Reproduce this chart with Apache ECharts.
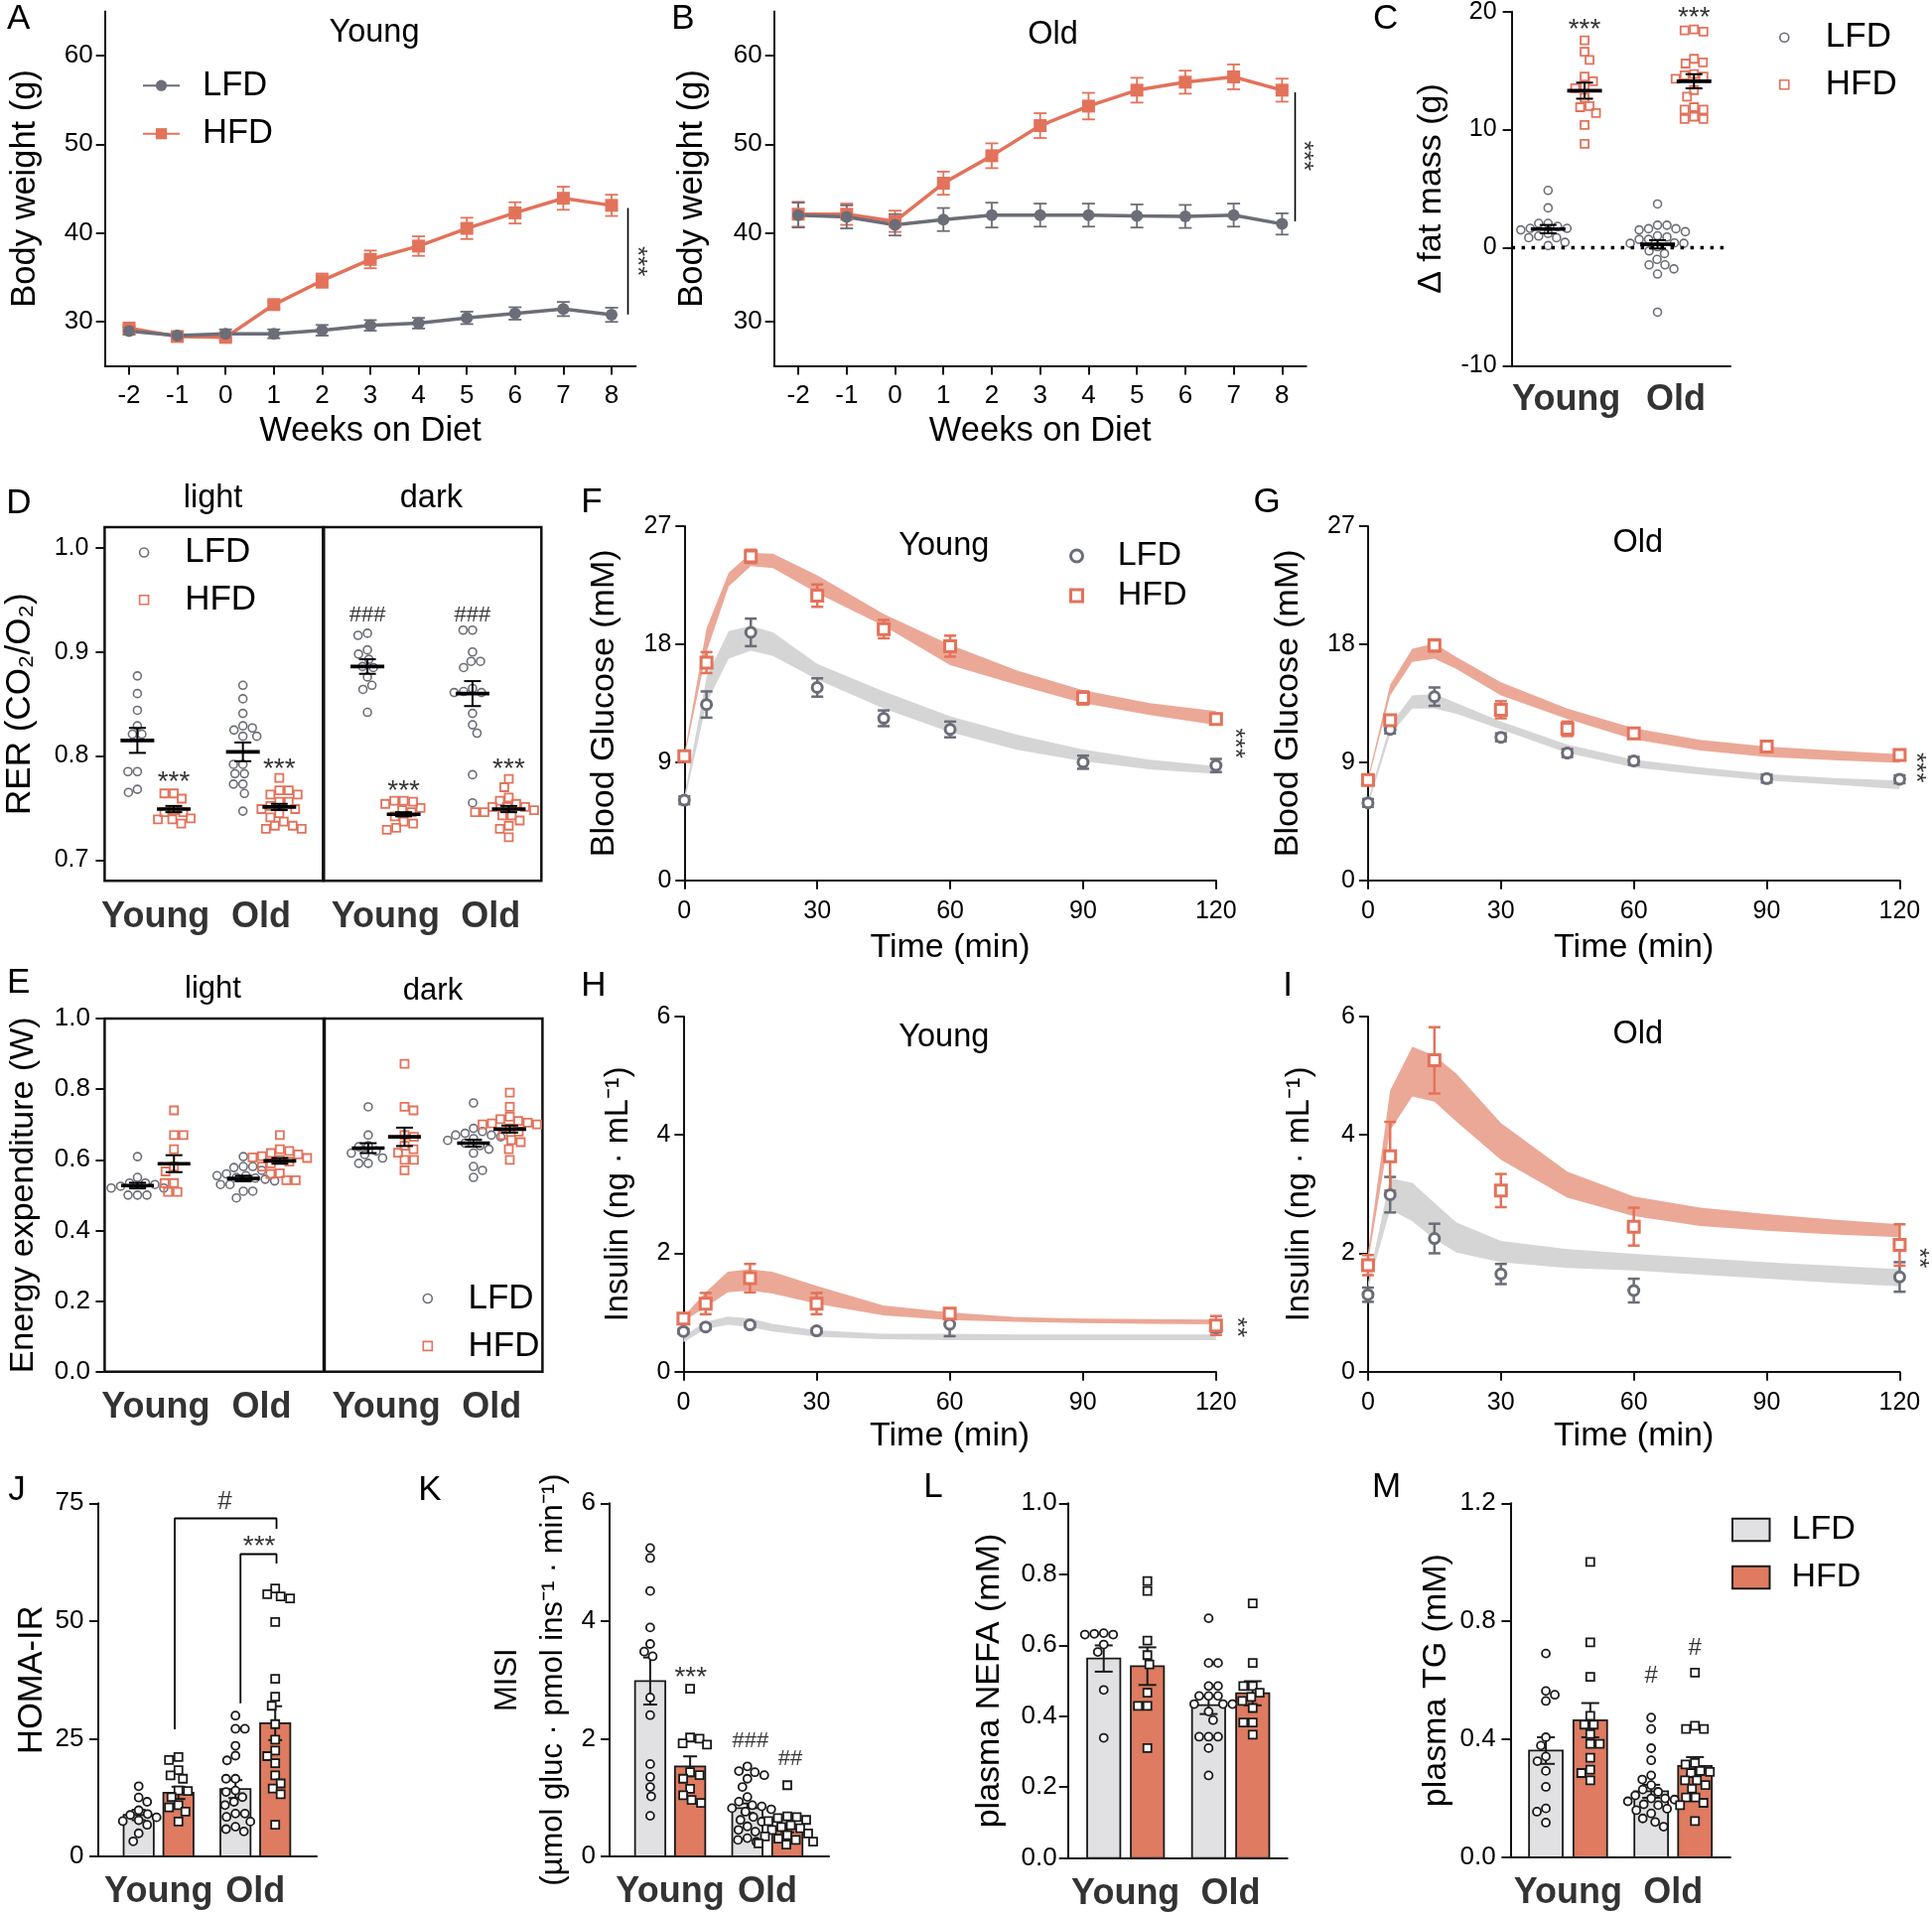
<!DOCTYPE html>
<html>
<head>
<meta charset="utf-8">
<title>Figure</title>
<script src="https://cdn.jsdelivr.net/npm/echarts@6.0.0/dist/echarts.min.js"></script>
<style>
html,body{margin:0;padding:0;background:#ffffff;}
#chart{width:1946px;height:1926px;}
</style>
</head>
<body>
<div id="chart"></div>
<script>
// ================= DATA =================
// A / B : body weight
const weeks = [-2,-1,0,1,2,3,4,5,6,7,8];
const bodyWeightTicks = [30,40,50,60];
const A_LFD = [28.9,28.4,28.6,28.6,29.0,29.55,29.8,30.4,30.9,31.4,30.75];
const A_LFD_sem = [0.4,0.4,0.5,0.5,0.6,0.6,0.6,0.7,0.7,0.8,0.8];
const A_HFD = [29.25,28.3,28.2,31.9,34.6,37.0,38.5,40.5,42.25,43.9,43.1];
const A_HFD_sem = [0.3,0.35,0.35,0.4,0.8,1.0,1.1,1.2,1.2,1.3,1.2];
const B_LFD = [42.0,41.8,40.9,41.5,42.0,42.0,42.0,41.9,41.85,42.0,41.0];
const B_LFD_sem = [1.4,1.3,1.2,1.3,1.4,1.3,1.3,1.3,1.3,1.3,1.2];
const B_HFD = [42.1,42.1,41.3,45.6,48.7,52.1,54.3,56.1,57.0,57.6,56.1];
const B_HFD_sem = [1.4,1.2,1.2,1.3,1.4,1.4,1.5,1.4,1.3,1.4,1.3];

// group order everywhere: [LFD Young, HFD Young, LFD Old, HFD Old]
const ageGroups = ['Young','Old'];

// C : delta fat mass
const C_LFD_young = [4.85,3.37,2.05,2.05,1.8,1.63,1.63,1.5,1.2,0.98,0.84,0.84,0.45,0.17];
const C_HFD_young = [17.56,16.6,15.9,14.5,14.1,13.7,13.5,12.7,12.0,11.9,11.4,10.4,8.8];
const C_LFD_old = [3.7,1.9,1.9,1.6,1.6,1.5,1.35,1.0,0.9,0.7,0.7,0.4,0.36,0.36,0.08,-0.28,-0.5,-1.0,-1.46,-1.46,-1.8,-2.24,-5.47];
const C_HFD_old = [18.4,18.5,18.3,16.0,15.7,15.6,14.7,14.6,14.5,14.3,13.35,12.8,11.9,11.7,11.7,11.1,10.9,10.9];
const C_mean = [1.57,13.3,0.28,14.1];
const C_sem = [0.35,0.68,0.35,0.6];

// D : RER
const RER_ticks = [0.7,0.8,0.9,1.0];
const D_L_LFD_young = [0.877,0.860,0.844,0.829,0.821,0.821,0.785,0.785,0.765,0.768];
const D_L_HFD_young = [0.764,0.764,0.759,0.748,0.746,0.746,0.740,0.739,0.739,0.735];
const D_L_LFD_old = [0.868,0.855,0.841,0.829,0.827,0.825,0.819,0.819,0.792,0.792,0.783,0.783,0.773,0.773,0.764,0.747];
const D_L_HFD_old = [0.779,0.767,0.767,0.763,0.763,0.756,0.756,0.752,0.749,0.749,0.745,0.741,0.737,0.733,0.733,0.730,0.730];
const D_D_LFD_young = [0.918,0.916,0.902,0.898,0.893,0.886,0.885,0.876,0.868,0.864,0.842];
const D_D_HFD_young = [0.757,0.757,0.756,0.754,0.750,0.748,0.746,0.742,0.737,0.735,0.731,0.729];
const D_D_LFD_old = [0.921,0.921,0.900,0.891,0.891,0.885,0.865,0.862,0.861,0.861,0.841,0.830,0.822,0.782,0.755];
const D_D_HFD_old = [0.778,0.770,0.760,0.757,0.754,0.751,0.751,0.751,0.748,0.746,0.746,0.743,0.743,0.738,0.733,0.730,0.722];
const D_light_mean = [0.815,0.749,0.804,0.751];
const D_light_sem = [0.012,0.003,0.009,0.003];
const D_dark_mean = [0.886,0.744,0.860,0.749];
const D_dark_sem = [0.007,0.002,0.012,0.003];

// E : energy expenditure
const E_L_LFD_young = [0.609,0.550,0.534,0.534,0.530,0.525,0.520,0.520,0.500,0.500,0.500];
const E_L_HFD_young = [0.740,0.670,0.670,0.630,0.581,0.567,0.534,0.534,0.509,0.509];
const E_L_LFD_old = [0.609,0.581,0.581,0.578,0.570,0.560,0.555,0.555,0.550,0.548,0.545,0.540,0.530,0.530,0.511,0.511,0.492];
const E_L_HFD_old = [0.670,0.630,0.625,0.619,0.615,0.610,0.607,0.605,0.600,0.595,0.590,0.581,0.562,0.560,0.542,0.542];
const E_D_LFD_young = [0.750,0.670,0.640,0.637,0.625,0.619,0.615,0.605,0.590,0.590];
const E_D_HFD_young = [0.872,0.750,0.740,0.670,0.665,0.640,0.630,0.620,0.600,0.600,0.570];
const E_D_LFD_old = [0.761,0.689,0.680,0.675,0.670,0.670,0.665,0.660,0.655,0.647,0.640,0.630,0.619,0.581,0.570,0.550];
const E_D_HFD_old = [0.790,0.750,0.722,0.715,0.710,0.705,0.703,0.700,0.700,0.689,0.680,0.670,0.656,0.650,0.630,0.600];
const E_light_mean = [0.527,0.589,0.547,0.597];
const E_light_sem = [0.008,0.024,0.008,0.008];
const E_dark_mean = [0.633,0.665,0.647,0.687];
const E_dark_sem = [0.014,0.026,0.010,0.010];

// F / G : glucose tolerance
const gttTimes = [0,5,15,30,45,60,90,120];
const F_LFD = [6.1,13.4,18.9,14.7,12.35,11.5,9.0,8.75];
const F_LFD_sem = [0.3,1.0,1.05,0.7,0.6,0.6,0.5,0.5];
const F_HFD = [9.45,16.6,24.7,21.7,19.15,17.85,13.9,12.3];
const F_HFD_sem = [0.3,0.8,0.5,0.85,0.7,0.8,0.5,0.35];
const G_LFD = [5.9,11.5,14.0,10.9,9.7,9.1,7.75,7.7];
const G_LFD_sem = [0.3,0.3,0.7,0.3,0.3,0.3,0.3,0.3];
const G_HFD = [7.65,12.2,17.9,13.0,11.55,11.2,10.2,9.55];
const G_HFD_sem = [0.3,0.4,0.45,0.65,0.55,0.3,0.35,0.3];
// model fit bands (lower / upper)
const bandTimes = [0,5,10,15,20,30,45,60,75,90,105,120];
const F_HFD_lo = [9.3,17.4,22.4,23.95,23.8,21.9,19.4,16.4,14.9,13.5,12.6,11.85];
const F_HFD_hi = [9.6,19.2,23.45,24.95,24.9,23.25,20.3,17.95,16.0,14.5,13.5,12.9];
const F_LFD_lo = [5.9,13.5,16.9,17.5,17.1,15.3,13.1,11.3,9.95,9.08,8.45,8.12];
const F_LFD_hi = [6.4,15.5,19.0,19.4,18.9,16.5,14.4,12.5,11.1,9.96,9.2,8.7];
const G_HFD_lo = [7.5,14.1,16.65,16.9,16.1,14.1,12.3,10.75,9.9,9.4,9.15,8.95];
const G_HFD_hi = [7.8,14.9,17.65,18.05,17.0,15.1,13.1,11.6,10.7,10.2,9.9,9.6];
const G_LFD_lo = [5.7,11.1,13.1,13.1,12.7,11.5,9.7,8.6,8.05,7.6,7.3,6.95];
const G_LFD_hi = [6.1,11.85,14.1,14.2,13.5,12.1,10.35,9.2,8.6,8.1,7.8,7.6];

// H / I : insulin
const insTimes = [0,5,15,30,60,120];
const H_LFD = [0.68,0.755,0.79,0.69,0.80,0.745];
const H_LFD_sem = [0.04,0.04,0.04,0.04,0.2,0.08];
const H_HFD = [0.895,1.15,1.58,1.15,0.98,0.78];
const H_HFD_sem = [0.06,0.18,0.24,0.18,0.06,0.16];
const I_LFD = [1.30,2.99,2.25,1.65,1.37,1.60];
const I_LFD_sem = [0.12,0.3,0.25,0.17,0.2,0.25];
const I_HFD = [1.8,3.64,5.26,3.06,2.45,2.14];
const I_HFD_sem = [0.17,0.58,0.56,0.28,0.32,0.35];
const H_HFD_lo = [0.85,1.09,1.34,1.37,1.32,1.15,0.95,0.87,0.84,0.82,0.81,0.80];
const H_HFD_hi = [0.93,1.34,1.69,1.73,1.69,1.45,1.12,1.0,0.92,0.895,0.89,0.88];
const H_LFD_lo = [0.5,0.72,0.79,0.755,0.68,0.59,0.55,0.53,0.53,0.53,0.53,0.53];
const H_LFD_hi = [0.6,0.84,0.93,0.9,0.81,0.70,0.64,0.64,0.63,0.63,0.63,0.63];
const I_HFD_lo = [1.85,4.08,4.65,4.56,4.22,3.58,2.94,2.63,2.46,2.38,2.32,2.27];
const I_HFD_hi = [2.0,4.75,5.49,5.34,5.03,4.2,3.38,2.96,2.77,2.66,2.57,2.49];
const I_LFD_lo = [1.4,2.74,2.54,2.24,2.01,1.85,1.75,1.71,1.64,1.57,1.5,1.44];
const I_LFD_hi = [1.5,3.27,3.19,2.85,2.52,2.21,2.07,1.99,1.92,1.85,1.79,1.73];

// J : HOMA-IR
const J_LFD_young = [14.9,12.5,11.6,9.8,9.0,8.8,8.3,7.7,7.5,6.7,4.9,3.2];
const J_HFD_young = [21.1,20.5,18.3,17.2,16.5,14.0,13.9,12.6,10.9,10.4,9.5,7.4];
const J_LFD_old = [29.9,27.1,27.1,23.5,21.4,20.4,16.5,16.5,14.0,13.7,12.6,11.6,10.9,9.1,9.1,8.4,7.4,6.3,5.3,5.8];
const J_HFD_old = [56.9,55.7,55.2,54.8,49.8,37.7,33.9,32.0,28.1,24.8,22.5,21.3,19.8,17.2,15.5,14.4,13.2,6.7];
const J_mean = [8.8,13.5,14.3,28.3];
const J_sem = [1.1,1.3,1.9,3.6];
// K : MISI
const K_LFD_young = [5.24,5.07,4.51,3.89,3.61,3.48,3.4,2.7,2.4,1.57,1.35,1.18,1.02,0.69];
const K_HFD_young = [2.85,2.02,2.0,1.92,1.9,1.43,1.38,1.32,1.15,1.04,0.96,0.91];
const K_LFD_old = [1.53,1.45,1.43,1.38,1.32,1.18,1.01,0.93,0.87,0.85,0.82,0.80,0.76,0.67,0.62,0.59,0.51,0.45,0.42,0.31,0.28,0.25];
const K_HFD_old = [1.21,0.68,0.67,0.65,0.62,0.60,0.53,0.50,0.48,0.45,0.39,0.36,0.34,0.30,0.28,0.25,0.22,0.20];
const K_mean = [2.98,1.53,0.82,0.47];
const K_sem = [0.40,0.17,0.08,0.06];
// L : plasma NEFA
const L_LFD_young = [0.630,0.632,0.634,0.630,0.602,0.581,0.474,0.339];
const L_HFD_young = [0.781,0.753,0.613,0.572,0.546,0.466,0.429,0.429,0.31];
const L_LFD_old = [0.676,0.55,0.55,0.485,0.485,0.457,0.457,0.457,0.434,0.434,0.434,0.413,0.389,0.342,0.342,0.342,0.31,0.233];
const L_HFD_old = [0.718,0.55,0.485,0.485,0.466,0.454,0.443,0.423,0.382,0.382,0.348];
const L_mean = [0.5625,0.541,0.431,0.4646];
const L_sem = [0.037,0.053,0.025,0.034];
// M : plasma TG
const M_LFD_young = [0.691,0.564,0.551,0.530,0.407,0.379,0.342,0.326,0.293,0.239,0.166,0.155,0.118];
const M_HFD_young = [1.001,0.729,0.612,0.48,0.45,0.45,0.418,0.385,0.385,0.338,0.297,0.286,0.261];
const M_LFD_old = [0.474,0.435,0.370,0.329,0.278,0.264,0.245,0.230,0.222,0.210,0.200,0.200,0.196,0.190,0.180,0.177,0.165,0.160,0.149,0.132,0.120,0.104];
const M_HFD_old = [0.626,0.446,0.435,0.435,0.320,0.315,0.293,0.290,0.286,0.261,0.261,0.245,0.233,0.203,0.203,0.185,0.177,0.123];
const M_mean = [0.362,0.465,0.224,0.31];
const M_sem = [0.045,0.058,0.022,0.03];

// ================= STYLE / LAYOUT =================
const FF = "'Liberation Sans', Arial, Helvetica, sans-serif";
const GRAY = '#6b6d78', CORAL = '#e3725a';
const BAND_L = '#d5d5d5', BAND_H = '#eba897';
const BAR_L = '#e1e1e3', BAR_H = '#de7b60';
const INK = '#111111';
const CAT_FS = 36, CAT_DY = 36.5;

const LAYOUT = {
  A:{left:105.7, top:11.4, width:534.6, height:357},
  B:{left:779.7, top:11.4, width:536, height:357},
  C:{left:1522.6, top:11.7, width:220.4, height:356.6},
  DL:{left:105.4, top:531, width:219.9, height:356.3},
  DD:{left:326.3, top:531, width:219, height:356.3},
  F:{left:689.3, top:530, width:535.5, height:356.7},
  G:{left:1377.9, top:530, width:535.5, height:356.7},
  EL:{left:105.4, top:1026, width:220.6, height:355.7},
  ED:{left:327, top:1026, width:219.4, height:355.7},
  H:{left:688.4, top:1024, width:536.4, height:357.7},
  I:{left:1377.9, top:1024, width:535.5, height:357.7},
  J:{left:99, top:1514.3, width:220, height:355.7},
  K:{left:614, top:1514.3, width:221, height:355.7},
  L:{left:1075.7, top:1514.3, width:221, height:357.4},
  M:{left:1521.4, top:1514.3, width:221.5, height:356.7}
};
// horizontal slots (axis units) for the 4 groups
const DOT_X = [1,2,4,5];
const DL_X = [0.9,1.9,3.8,4.8];
const DD_X = [1.2,2.2,4.1,5.1];
const JK_X = [0.185,0.367,0.628,0.81];
const L_X = [0.163,0.362,0.641,0.842];
const M_X = [0.161,0.363,0.64,0.839];

const grids = [], xAxes = [], yAxes = [], series = [], legends = [], graphics = [];

function valAxis(o){
  const ax = {type:'value', min:o.min, max:o.max,
    axisLine:{show:o.line!==false, onZero:false, lineStyle:{color:INK, width:2}},
    axisTick:{show:o.ticks!==false, inside:false, length:9, lineStyle:{color:INK, width:2}},
    axisLabel:{show:o.labels!==false, color:'#000', fontSize:o.fs||26, fontFamily:FF, margin:o.margin==null?12:o.margin},
    splitLine:{show:false}, nameMoveOverlap:false};
  if (o.interval!=null) ax.interval = o.interval;
  if (o.custom){ ax.axisTick.customValues = o.custom; ax.axisLabel.customValues = o.custom; }
  if (o.fmt) ax.axisLabel.formatter = o.fmt;
  if (o.name){
    ax.name = o.name; ax.nameLocation = 'middle'; ax.nameGap = o.nameGap;
    if (o.rot) ax.nameRotate = 90;
    ax.nameTextStyle = {color:'#000', fontSize:o.nameFs||34, fontFamily:FF};
    if (o.nameLH) ax.nameTextStyle.lineHeight = o.nameLH;
  }
  return ax;
}
function panel(key, xa, ya, extra){
  const gi = grids.length;
  grids.push(Object.assign({outerBoundsMode:'none', containLabel:false}, LAYOUT[key], extra||{}));
  xa.gridIndex = gi; ya.gridIndex = gi;
  xAxes.push(xa); yAxes.push(ya);
  return gi;
}
const fmt1 = v => (+v).toFixed(1);

// beeswarm (deterministic) offsets in pixel space
function swarm(vals, cx, kx, ky, d){
  const order = vals.map((v,i)=>i).sort((a,b)=>vals[b]-vals[a]);
  const placed = [], out = [];
  order.forEach(i=>{
    const py = vals[i]*ky;
    const sg = placed.length % 2 ? -1 : 1;
    let off = 0;
    for (let k=0; k<400; k++){
      const cands = k===0 ? [0] : [sg*k*0.5, -sg*k*0.5];
      let ok = null;
      for (const c of cands){
        if (placed.every(p => (p[0]-c)*(p[0]-c) + (p[1]-py)*(p[1]-py) >= d*d)) { ok = c; break; }
      }
      if (ok !== null){ off = ok; break; }
    }
    placed.push([off, py]);
    out.push([cx + off/kx, vals[i]]);
  });
  return out;
}
function swarmGroups(key, xr, yr, groups, xs, d){
  const g = LAYOUT[key];
  const kx = g.width/(xr[1]-xr[0]), ky = g.height/(yr[1]-yr[0]);
  return groups.map((vals,i)=>swarm(vals, xs[i], kx, ky, d));
}

function ptsSeries(name, gi, pts, symbol, size, fill, stroke, bw, z){
  return {type:'scatter', name, xAxisIndex:gi, yAxisIndex:gi, silent:true, clip:false, z:z||4,
    symbol, symbolSize:size, data:pts,
    itemStyle:{color:fill, borderColor:stroke, borderWidth:bw, opacity:1}};
}
function lineSeries(name, gi, xs, ys, color, symbol, size){
  return {type:'line', name, xAxisIndex:gi, yAxisIndex:gi, silent:true, z:4,
    data: xs.map((x,i)=>[x, ys[i]]), symbol, symbolSize:size, showSymbol:true,
    lineStyle:{color, width:3.5}, itemStyle:{color, opacity:1}};
}
function errSeries(gi, xs, m, s, color, cap, w){
  return {type:'custom', xAxisIndex:gi, yAxisIndex:gi, silent:true, clip:false, z:3,
    data: xs.map((x,i)=>[x, m[i], s[i]]), encode:{x:0, y:1},
    renderItem:(p, api)=>{
      const x = api.value(0), mm = api.value(1), ss = api.value(2);
      const t = api.coord([x, mm+ss]), b = api.coord([x, mm-ss]);
      const st = {stroke:color, lineWidth:w};
      return {type:'group', children:[
        {type:'line', shape:{x1:t[0], y1:t[1], x2:b[0], y2:b[1]}, style:st},
        {type:'line', shape:{x1:t[0]-cap/2, y1:t[1], x2:t[0]+cap/2, y2:t[1]}, style:st},
        {type:'line', shape:{x1:b[0]-cap/2, y1:b[1], x2:b[0]+cap/2, y2:b[1]}, style:st}]};
    }};
}
function meanSemSeries(gi, xs, m, s, lineW, capW){
  return {type:'custom', xAxisIndex:gi, yAxisIndex:gi, silent:true, clip:false, z:6,
    data: xs.map((x,i)=>[x, m[i], s[i]]), encode:{x:0, y:1},
    renderItem:(p, api)=>{
      const x = api.value(0), mm = api.value(1), ss = api.value(2);
      const c = api.coord([x, mm]), t = api.coord([x, mm+ss]), b = api.coord([x, mm-ss]);
      const st = {stroke:'#000', lineWidth:2};
      return {type:'group', children:[
        {type:'line', shape:{x1:t[0], y1:t[1], x2:b[0], y2:b[1]}, style:st},
        {type:'line', shape:{x1:t[0]-capW/2, y1:t[1], x2:t[0]+capW/2, y2:t[1]}, style:st},
        {type:'line', shape:{x1:b[0]-capW/2, y1:b[1], x2:b[0]+capW/2, y2:b[1]}, style:st},
        {type:'line', shape:{x1:c[0]-lineW/2, y1:c[1], x2:c[0]+lineW/2, y2:c[1]}, style:{stroke:'#000', lineWidth:3.6}}]};
    }};
}
function barSeries(name, gi, xs, m, s, fill, bw, cap){
  return {type:'custom', name, xAxisIndex:gi, yAxisIndex:gi, silent:true, clip:false, z:2,
    itemStyle:{color:fill, borderColor:'#1a1a1a', borderWidth:1.8},
    data: xs.map((x,i)=>[x, m[i], s[i]]), encode:{x:0, y:1},
    renderItem:(p, api)=>{
      const x = api.value(0), mm = api.value(1), ss = api.value(2);
      const a = api.coord([x-bw/2, 0]), b = api.coord([x+bw/2, mm]);
      const t = api.coord([x, mm+ss]), d = api.coord([x, mm-ss]);
      const ls = {stroke:'#1a1a1a', lineWidth:2};
      return {type:'group', children:[
        {type:'rect', shape:{x:a[0], y:b[1], width:b[0]-a[0], height:a[1]-b[1]}, style:{fill:fill, stroke:'#1a1a1a', lineWidth:1.8}},
        {type:'line', shape:{x1:t[0], y1:t[1], x2:d[0], y2:d[1]}, style:ls},
        {type:'line', shape:{x1:t[0]-cap/2, y1:t[1], x2:t[0]+cap/2, y2:t[1]}, style:ls},
        {type:'line', shape:{x1:d[0]-cap/2, y1:d[1], x2:d[0]+cap/2, y2:d[1]}, style:ls}]};
    }};
}
function bandSeries(gi, times, lo, hi, color){
  return {type:'custom', xAxisIndex:gi, yAxisIndex:gi, silent:true, clip:false, z:1,
    data: times.map((t,i)=>[t, lo[i], hi[i]]), encode:{x:0, y:[1,2]},
    renderItem:(p, api)=>{
      if (p.dataIndex !== 0) return null;
      const pts = [];
      for (let i=0;i<times.length;i++) pts.push(api.coord([times[i], hi[i]]));
      for (let i=times.length-1;i>=0;i--) pts.push(api.coord([times[i], lo[i]]));
      return {type:'polygon', shape:{points:pts}, style:{fill:color}};
    }};
}
function segSeries(gi, pts, w, type){
  return {type:'line', xAxisIndex:gi, yAxisIndex:gi, silent:true, clip:false, z:5,
    symbol:'none', data:pts, lineStyle:{color:'#000', width:w||1.6, type:type||'solid', cap:'butt'}};
}
function textSeries(gi, items, o){
  return {type:'scatter', xAxisIndex:gi, yAxisIndex:gi, silent:true, clip:false, z:10,
    symbol:'circle', symbolSize:1, itemStyle:{color:'rgba(0,0,0,0)'},
    data: items.map(it=>({value:[it[0], it[1]], name:it[2]})),
    label:{show:true, position:'inside', formatter:'{b}', color:'#000', fontSize:o.fs,
      fontWeight:o.bold?'bold':'normal', fontFamily:FF, offset:o.offset||[0,0], rotate:o.rotate||0}};
}
function catLabels(gi, xs, ymin, dy){
  return textSeries(gi, [[xs[0], ymin, ageGroups[0]], [xs[1], ymin, ageGroups[1]]], {fs:CAT_FS, bold:true, offset:[0, dy]});
}
function mkLegend(names, left, top, iw, ih, gap, padL, fs, bw){
  const lg = {show:true, orient:'vertical', left, top, padding:0, itemWidth:iw, itemHeight:ih, itemGap:gap,
    selectedMode:false, data:names, formatter: n => n.split('·')[0],
    textStyle:{color:'#000', fontSize:fs, fontFamily:FF, lineHeight:fs, padding:[0,0,0,padL]}};
  if (bw != null) lg.itemStyle = {borderWidth:bw};
  return lg;
}
function gText(text, x, y, fs){
  graphics.push({type:'text', x, y, silent:true, style:{text, fill:'#000', fontSize:fs, fontFamily:FF,
    align:'center', verticalAlign:'middle', textAlign:'center', textVerticalAlign:'middle'}});
}
const mid = (a,b) => (a+b)/2;
const OPEN = 'rgba(255,255,255,0)';

// ================= PANEL A =================
const gA = panel('A',
  valAxis({min:-2.5, max:8.5, custom:weeks, fs:26, margin:17, name:'Weeks on Diet', nameGap:49, nameFs:34.5}),
  valAxis({min:25, max:65, custom:bodyWeightTicks, fs:26, margin:12, name:'Body weight (g)', nameGap:63, nameFs:34.5, rot:true}));
series.push(errSeries(gA, weeks, A_HFD, A_HFD_sem, CORAL, 13, 1.8));
series.push(lineSeries('HFD·A', gA, weeks, A_HFD, CORAL, 'rect', 13));
series.push(errSeries(gA, weeks, A_LFD, A_LFD_sem, GRAY, 13, 1.8));
series.push(lineSeries('LFD·A', gA, weeks, A_LFD, GRAY, 'circle', 12));
series.push(segSeries(gA, [[8.34,30.8],[8.34,42.8]], 1.6));
series.push(textSeries(gA, [[8.52,36.8,'***']], {fs:26, rotate:-90}));
legends.push(mkLegend(['LFD·A','HFD·A'], 143, 68.7, 37, 14, 13.5, 18, 34.5));

// ================= PANEL B =================
const gB = panel('B',
  valAxis({min:-2.5, max:8.5, custom:weeks, fs:26, margin:17, name:'Weeks on Diet', nameGap:49, nameFs:34.5}),
  valAxis({min:25, max:65, custom:bodyWeightTicks, fs:26, margin:12, name:'Body weight (g)', nameGap:65, nameFs:34.5, rot:true}));
series.push(errSeries(gB, weeks, B_HFD, B_HFD_sem, CORAL, 13, 1.8));
series.push(lineSeries('HFD·B', gB, weeks, B_HFD, CORAL, 'rect', 13));
series.push(errSeries(gB, weeks, B_LFD, B_LFD_sem, GRAY, 13, 1.8));
series.push(lineSeries('LFD·B', gB, weeks, B_LFD, GRAY, 'circle', 12));
series.push(segSeries(gB, [[8.27,41.3],[8.27,55.85]], 1.6));
series.push(textSeries(gB, [[8.42,48.7,'***']], {fs:26, rotate:-90}));

// ================= PANEL C =================
const gC = panel('C',
  valAxis({min:0, max:6, ticks:false, labels:false}),
  valAxis({min:-10, max:20, interval:10, fs:25, margin:15, name:'Δ fat mass (g)', nameGap:63.5, nameFs:34, rot:true}));
series.push(segSeries(gC, [[0,0],[5.85,0]], 3.5, [3.5,6.5]));
const cPts = swarmGroups('C', [0,6], [-10,20], [C_LFD_young, C_HFD_young, C_LFD_old, C_HFD_old], DOT_X, 9.5);
series.push(ptsSeries('LFD·C', gC, cPts[0].concat(cPts[2]), 'circle', 8, OPEN, GRAY, 1.6));
series.push(ptsSeries('HFD·C', gC, cPts[1].concat(cPts[3]), 'rect', 8, OPEN, CORAL, 1.8));
series.push(meanSemSeries(gC, DOT_X, C_mean, C_sem, 35, 17));
series.push(textSeries(gC, [[2,19.0,'***'],[5,20.0,'***']], {fs:28, offset:[0,7]}));
series.push(catLabels(gC, [1.5,4.5], -10, 35));
legends.push(mkLegend(['LFD·C','HFD·C'], 1792, 20.3, 9, 9, 12.5, 32, 35, 1.6));

// ================= PANEL D =================
const frame = {show:true, borderColor:INK, borderWidth:2.5, backgroundColor:'rgba(0,0,0,0)'};
const gDL = panel('DL',
  valAxis({min:0, max:6, line:false, ticks:false, labels:false}),
  valAxis({min:0.68, max:1.02, custom:RER_ticks, fmt:fmt1, fs:25, margin:16, line:false, name:'RER (CO₂/O₂)', nameGap:67.5, nameFs:35, rot:true}), frame);
const gDD = panel('DD',
  valAxis({min:0, max:6, line:false, ticks:false, labels:false}),
  valAxis({min:0.68, max:1.02, line:false, ticks:false, labels:false}), frame);
const dlPts = swarmGroups('DL', [0,6], [0.68,1.02], [D_L_LFD_young, D_L_HFD_young, D_L_LFD_old, D_L_HFD_old], DL_X, 9.5);
const ddPts = swarmGroups('DD', [0,6], [0.68,1.02], [D_D_LFD_young, D_D_HFD_young, D_D_LFD_old, D_D_HFD_old], DD_X, 9.5);
series.push(ptsSeries('LFD·D', gDL, dlPts[0].concat(dlPts[2]), 'circle', 8, OPEN, GRAY, 1.6));
series.push(ptsSeries('HFD·D', gDL, dlPts[1].concat(dlPts[3]), 'rect', 8, OPEN, CORAL, 1.8));
series.push(ptsSeries('LFD·D2', gDD, ddPts[0].concat(ddPts[2]), 'circle', 8, OPEN, GRAY, 1.6));
series.push(ptsSeries('HFD·D2', gDD, ddPts[1].concat(ddPts[3]), 'rect', 8, OPEN, CORAL, 1.8));
series.push(meanSemSeries(gDL, DL_X, D_light_mean, D_light_sem, 34, 17));
series.push(meanSemSeries(gDD, DD_X, D_dark_mean, D_dark_sem, 34, 17));
series.push(textSeries(gDL, [[1.9,0.781,'***'],[4.8,0.794,'***']], {fs:28, offset:[0,7]}));
series.push(textSeries(gDD, [[2.2,0.773,'***'],[5.1,0.794,'***']], {fs:28, offset:[0,7]}));
series.push(textSeries(gDD, [[1.2,0.935,'###'],[4.1,0.935,'###']], {fs:22}));
series.push(catLabels(gDL, [mid(DL_X[0],DL_X[1]), mid(DL_X[2],DL_X[3])], 0.68, CAT_DY));
series.push(catLabels(gDD, [mid(DD_X[0],DD_X[1]), mid(DD_X[2],DD_X[3])], 0.68, CAT_DY));
legends.push(mkLegend(['LFD·D','HFD·D'], 139.8, 539, 9, 9, 12.8, 31.6, 35, 1.6));

// ================= PANEL E =================
const gEL = panel('EL',
  valAxis({min:0, max:6, line:false, ticks:false, labels:false}),
  valAxis({min:0, max:1, interval:0.2, fmt:fmt1, fs:26, margin:14.5, line:false, name:'Energy expenditure (W)', nameGap:64.5, nameFs:34, rot:true}), frame);
const gED = panel('ED',
  valAxis({min:0, max:6, line:false, ticks:false, labels:false}),
  valAxis({min:0, max:1, line:false, ticks:false, labels:false}), frame);
const elPts = swarmGroups('EL', [0,6], [0,1], [E_L_LFD_young, E_L_HFD_young, E_L_LFD_old, E_L_HFD_old], DL_X, 9.5);
const edPts = swarmGroups('ED', [0,6], [0,1], [E_D_LFD_young, E_D_HFD_young, E_D_LFD_old, E_D_HFD_old], DD_X, 9.5);
series.push(ptsSeries('LFD·E', gED, edPts[0].concat(edPts[2]), 'circle', 8, OPEN, GRAY, 1.6));
series.push(ptsSeries('HFD·E', gED, edPts[1].concat(edPts[3]), 'rect', 8, OPEN, CORAL, 1.8));
series.push(ptsSeries('LFD·E1', gEL, elPts[0].concat(elPts[2]), 'circle', 8, OPEN, GRAY, 1.6));
series.push(ptsSeries('HFD·E1', gEL, elPts[1].concat(elPts[3]), 'rect', 8, OPEN, CORAL, 1.8));
series.push(meanSemSeries(gEL, DL_X, E_light_mean, E_light_sem, 33, 17));
series.push(meanSemSeries(gED, DD_X, E_dark_mean, E_dark_sem, 33, 17));
series.push(catLabels(gEL, [mid(DL_X[0],DL_X[1]), mid(DL_X[2],DL_X[3])], 0, CAT_DY));
series.push(catLabels(gED, [mid(DD_X[0],DD_X[1]), mid(DD_X[2],DD_X[3])], 0, CAT_DY));
legends.push(mkLegend(['LFD·E','HFD·E'], 425.5, 1290.5, 9, 9, 12.9, 31.2, 35, 1.6));

// ================= PANELS F, G, H, I =================
function timePanel(key, yMax, yInt, yName, yGap, yFs, xGap){
  return panel(key,
    valAxis({min:0, max:120, interval:30, fs:25, margin:19, name:'Time (min)', nameGap:xGap, nameFs:34}),
    valAxis({min:0, max:yMax, interval:yInt, fs:25, margin:13, name:yName, nameGap:yGap, nameFs:yFs, rot:true}));
}
function timeSeries(gi, times, lfd, lfdS, hfd, hfdS, bl, bh, suffix){
  series.push(bandSeries(gi, bandTimes, bl[0], bl[1], BAND_L));
  series.push(bandSeries(gi, bandTimes, bh[0], bh[1], BAND_H));
  series.push(errSeries(gi, times, lfd, lfdS, GRAY, 12, 2.5));
  series.push(ptsSeries('LFD·'+suffix, gi, times.map((t,i)=>[t, lfd[i]]), 'circle', 10, '#ffffff', GRAY, 3));
  series.push(errSeries(gi, times, hfd, hfdS, CORAL, 12, 2.5));
  series.push(ptsSeries('HFD·'+suffix, gi, times.map((t,i)=>[t, hfd[i]]), 'rect', 11, '#ffffff', CORAL, 3));
}
const gF = timePanel('F', 27, 9, 'Blood Glucose (mM)', 63.5, 34, 50.5);
timeSeries(gF, gttTimes, F_LFD, F_LFD_sem, F_HFD, F_HFD_sem, [F_LFD_lo, F_LFD_hi], [F_HFD_lo, F_HFD_hi], 'F');
series.push(segSeries(gF, [[122.9,8.7],[122.9,12.2]], 1.6));
series.push(textSeries(gF, [[124.1,10.45,'***']], {fs:26, rotate:-90}));
legends.push(mkLegend(['LFD·F','HFD·F'], 1077, 543, 12, 12, 6, 30.2, 34, 3));

const gG = timePanel('G', 27, 9, 'Blood Glucose (mM)', 63.5, 34, 50.5);
timeSeries(gG, gttTimes, G_LFD, G_LFD_sem, G_HFD, G_HFD_sem, [G_LFD_lo, G_LFD_hi], [G_HFD_lo, G_HFD_hi], 'G');
series.push(segSeries(gG, [[122.45,7.55],[122.45,9.6]], 1.6));
series.push(textSeries(gG, [[123.5,8.6,'***']], {fs:26, rotate:-90}));

const gH = timePanel('H', 6, 2, 'Insulin (ng · mL⁻¹)', 48.5, 32.5, 47.5);
timeSeries(gH, insTimes, H_LFD, H_LFD_sem, H_HFD, H_HFD_sem, [H_LFD_lo, H_LFD_hi], [H_HFD_lo, H_HFD_hi], 'H');
series.push(segSeries(gH, [[123.6,0.52],[123.6,0.98]], 1.6));
series.push(textSeries(gH, [[124.5,0.75,'**']], {fs:26, rotate:-90}));

const gI = timePanel('I', 6, 2, 'Insulin (ng · mL⁻¹)', 52.5, 32.5, 47.5);
timeSeries(gI, insTimes, I_LFD, I_LFD_sem, I_HFD, I_HFD_sem, [I_LFD_lo, I_LFD_hi], [I_HFD_lo, I_HFD_hi], 'I');
series.push(segSeries(gI, [[122.8,1.7],[122.8,2.14]], 1.6));
series.push(textSeries(gI, [[124.2,1.92,'**']], {fs:26, rotate:-90}));

// ================= BAR PANELS J, K, L, M =================
function barPanel(key, yMax, yInt, yName, yGap, yFs, lblMargin, fmt, nameLH){
  return panel(key,
    valAxis({min:0, max:1, ticks:false, labels:false}),
    valAxis({min:0, max:yMax, interval:yInt, fs:26, margin:lblMargin, fmt, name:yName, nameGap:yGap, nameFs:yFs, nameLH, rot:true}));
}
function barContent(gi, key, xs, groups, mean, sem, yr, bw, cap, suffix){
  series.push(barSeries('LFD·'+suffix, gi, [xs[0], xs[2]], [mean[0], mean[2]], [sem[0], sem[2]], BAR_L, bw, cap));
  series.push(barSeries('HFD·'+suffix, gi, [xs[1], xs[3]], [mean[1], mean[3]], [sem[1], sem[3]], BAR_H, bw, cap));
  const p = swarmGroups(key, [0,1], yr, groups, xs, 9.5);
  series.push(ptsSeries(null, gi, p[0].concat(p[2]), 'circle', 8, '#ffffff', '#1a1a1a', 1.8, 5));
  series.push(ptsSeries(null, gi, p[1].concat(p[3]), 'rect', 8, '#ffffff', '#1a1a1a', 1.8, 5));
  series.push(catLabels(gi, [mid(xs[0],xs[1]), mid(xs[2],xs[3])], 0, CAT_DY));
}
const gJ = barPanel('J', 75, 25, 'HOMA-IR', 49, 34.5, 14.6);
barContent(gJ, 'J', JK_X, [J_LFD_young, J_HFD_young, J_LFD_old, J_HFD_old], J_mean, J_sem, [0,75], 0.138, 14, 'J');
series.push(segSeries(gJ, [[0.35,27],[0.35,71.8],[0.816,71.8],[0.816,69.6]], 1.8));
series.push(segSeries(gJ, [[0.651,32.5],[0.651,64.2],[0.816,64.2],[0.816,62.2]], 1.8));
series.push(textSeries(gJ, [[0.58,75.3,'#']], {fs:26}));
series.push(textSeries(gJ, [[0.737,67.1,'***']], {fs:28, offset:[0,7]}));

const gK = barPanel('K', 6, 2, 'MISI\n(µmol gluc · pmol ins⁻¹ · min⁻¹)', 34, 31, 14, null, 46);
barContent(gK, 'K', JK_X, [K_LFD_young, K_HFD_young, K_LFD_old, K_HFD_old], K_mean, K_sem, [0,6], 0.138, 14, 'K');
series.push(textSeries(gK, [[0.37,3.15,'***']], {fs:28, offset:[0,7]}));
series.push(textSeries(gK, [[0.642,1.96,'###'],[0.823,1.66,'##']], {fs:22}));

const gL = barPanel('L', 1, 0.2, 'plasma NEFA (mM)', 62, 34, 11, fmt1);
barContent(gL, 'L', L_X, [L_LFD_young, L_HFD_young, L_LFD_old, L_HFD_old], L_mean, L_sem, [0,1], 0.151, 18, 'L');

const gM = barPanel('M', 1.2, 0.4, 'plasma TG (mM)', 57.5, 34, 14.7, fmt1);
barContent(gM, 'M', M_X, [M_LFD_young, M_HFD_young, M_LFD_old, M_HFD_old], M_mean, M_sem, [0,1.2], 0.153, 18, 'M');
series.push(textSeries(gM, [[0.64,0.615,'#'],[0.839,0.708,'#']], {fs:24}));
const mLeg = mkLegend([
  {name:'LFD·M', icon:'rect', itemStyle:{color:BAR_L, borderColor:'#1a1a1a', borderWidth:2}},
  {name:'HFD·M', icon:'rect', itemStyle:{color:BAR_H, borderColor:'#1a1a1a', borderWidth:2}}
], 1744, 1524, 37.5, 22.7, 14, 17, 34);
legends.push(mLeg);

// ================= LETTERS & TITLES =================
[['A',18.6,19.5],['B',688,19.5],['C',1395.6,19.5],['D',19,507.5],['E',18.6,990],['F',596,506],['G',1276,506],
 ['H',598,993],['I',1297,993],['J',17,1501],['K',433,1501],['L',940,1498],['M',1396.5,1498]].forEach(a=>gText(a[0],a[1],a[2],35));
gText('Young', 377, 33, 32.5);
gText('Old', 1060.5, 35, 32.5);
gText('light', 214.5, 501.7, 32.5);
gText('dark', 434.4, 501.7, 32.5);
gText('light', 214.5, 996.7, 31);
gText('dark', 436, 998, 31);
gText('Young', 950.8, 550, 32.5);
gText('Old', 1649.8, 546.7, 32.5);
gText('Young', 950.8, 1045, 32.5);
gText('Old', 1649.8, 1041.7, 32.5);

// ================= RENDER =================
const chart = echarts.init(document.getElementById('chart'), null, {renderer:'canvas', width:1946, height:1926});
chart.setOption({
  animation:false,
  backgroundColor:'#ffffff',
  textStyle:{fontFamily:FF},
  tooltip:{show:false},
  grid:grids, xAxis:xAxes, yAxis:yAxes,
  legend:legends,
  series:series,
  graphic:{elements:graphics}
});
</script>
</body>
</html>
